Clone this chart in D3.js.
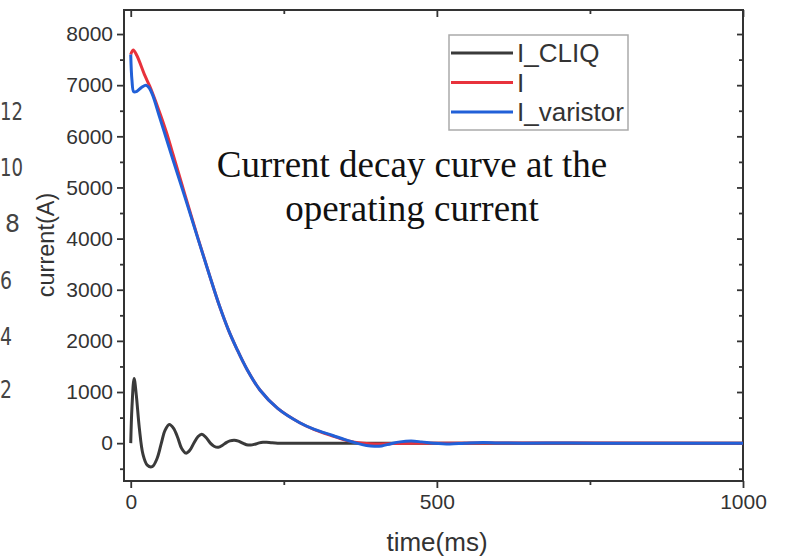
<!DOCTYPE html>
<html>
<head>
<meta charset="utf-8">
<script src="https://cdn.jsdelivr.net/npm/d3@7"></script>
<style>
  body { margin: 0; background: #fff; }
  svg { display: block; }
</style>
</head>
<body>
<div id="chart"></div>
<script>
// data: [time (ms), current (A)]
const cliq = [
  [0, 0], [2, 700], [5.5, 1265], [9, 950], [14, 300], [20, -220], [27, -430], [35, -460],
  [43, -300], [50, 0], [56, 250], [63, 366], [70, 290], [77, 100], [83, -100], [90, -195],
  [97, -130], [103, 0], [110, 130], [116, 176], [123, 110], [130, 0], [136, -60], [143, -80],
  [150, -40], [156, 10], [162, 45], [169, 59], [176, 40], [183, 0], [189, -30], [196, -38],
  [203, -20], [210, 5], [216, 16], [222, 18], [229, 10], [240, 0], [260, -4], [300, 0],
  [400, 0], [1000, 0]
];
const current = [
  [0, 7600], [4, 7690], [10, 7580], [23, 7190], [31, 6980], [45, 6540], [58, 6090],
  [69, 5650], [88, 4880], [110, 4000], [129, 3270], [145, 2680], [160, 2200], [173, 1850],
  [190, 1440], [211, 1040], [240, 680], [276, 400], [300, 265], [330, 140], [355, 45],
  [380, 0], [400, -15], [430, -5], [460, 0], [1000, 0]
];
const varistor = [
  [0, 7600], [2, 7100], [5, 6870], [10, 6880], [18, 6960], [25, 7000], [30, 6950], [36, 6800],
  [47, 6380], [58, 5960], [69, 5540], [88, 4830], [110, 3990], [129, 3270], [145, 2680],
  [160, 2200], [173, 1850], [190, 1440], [211, 1040], [240, 680], [276, 400], [300, 270],
  [330, 150], [350, 70], [369, 0], [385, -45], [398, -62], [410, -55], [425, -10], [440, 25],
  [458, 40], [475, 25], [495, 0], [521, -15], [545, 0], [575, 15], [600, 5], [640, 0],
  [700, 4], [760, 0], [1000, 0]
];
const seriesNames = ["I_CLIQ", "I", "I_varistor"];
const seriesColors = ["#3a3a3a", "#e8323c", "#2160d8"];
const yMajor = [0, 1000, 2000, 3000, 4000, 5000, 6000, 7000, 8000];
const yMinor = [-500, 500, 1500, 2500, 3500, 4500, 5500, 6500, 7500];
const xMajor = [0, 500, 1000];
const xMinor = [250, 750];
const titleLines = ["Current decay curve at the", "operating current"];
const strayLabels = ["12", "10", "8", "6", "4", "2"];

let svg = d3.select("#chart")
    .append("svg")
    .attr("width", 793)
    .attr("height", 557);

let plotLeft = 124, plotRight = 743, plotTop = 10, plotBottom = 481;

let x = d3.scaleLinear().domain([-11, 1000]).range([plotLeft, plotRight]);
let y = d3.scaleLinear().domain([-740, 8470]).range([plotBottom, plotTop]);

// pieces of the neighbouring figure at the left edge
let strayY = [120, 176, 232, 289, 345, 398];
let strayX = [0, 0, 5, 0, 0, 0];
let strayW = [23, 23, 15, 12, 12, 12];
svg.append("g")
    .selectAll("text")
    .data(strayLabels)
    .enter()
    .append("text")
    .attr("x", (d, i) => strayX[i])
    .attr("y", (d, i) => strayY[i])
    .attr("textLength", (d, i) => strayW[i])
    .attr("lengthAdjust", "spacingAndGlyphs")
    .style("font-family", "'DejaVu Sans', sans-serif")
    .style("font-size", "24px")
    .style("fill", "#444")
    .text(d => d);

function styleAxis(g) {
    g.select(".domain").remove();
    g.selectAll(".tick line").attr("stroke", "#333").attr("stroke-width", 1.8);
    g.selectAll(".tick text")
        .style("font-family", "'Liberation Sans', Arial, sans-serif")
        .style("font-size", "21px")
        .style("fill", "#333");
}

// left axis
svg.append("g")
    .attr("transform", "translate(" + plotLeft + ",0)")
    .call(d3.axisLeft(y).tickValues(yMajor).tickSize(7).tickPadding(4).tickFormat(d3.format("d")))
    .call(styleAxis);
svg.append("g")
    .attr("transform", "translate(" + plotLeft + ",0)")
    .call(d3.axisLeft(y).tickValues(yMinor).tickSize(4).tickFormat(""))
    .call(styleAxis);

// right axis, ticks inward
svg.append("g")
    .attr("transform", "translate(" + plotRight + ",0)")
    .call(d3.axisLeft(y).tickValues(yMajor).tickSize(6).tickFormat(""))
    .call(styleAxis);
svg.append("g")
    .attr("transform", "translate(" + plotRight + ",0)")
    .call(d3.axisLeft(y).tickValues(yMinor).tickSize(4).tickFormat(""))
    .call(styleAxis);

// bottom axis
svg.append("g")
    .attr("transform", "translate(0," + plotBottom + ")")
    .call(d3.axisBottom(x).tickValues(xMajor).tickSize(7).tickPadding(6).tickFormat(d3.format("d")))
    .call(styleAxis);
svg.append("g")
    .attr("transform", "translate(0," + plotBottom + ")")
    .call(d3.axisBottom(x).tickValues(xMinor).tickSize(4).tickFormat(""))
    .call(styleAxis);

// top axis, ticks inward
svg.append("g")
    .attr("transform", "translate(0," + plotTop + ")")
    .call(d3.axisBottom(x).tickValues(xMajor).tickSize(7).tickFormat(""))
    .call(styleAxis);
svg.append("g")
    .attr("transform", "translate(0," + plotTop + ")")
    .call(d3.axisBottom(x).tickValues(xMinor).tickSize(4).tickFormat(""))
    .call(styleAxis);

// frame
svg.append("rect")
    .attr("x", plotLeft)
    .attr("y", plotTop)
    .attr("width", plotRight - plotLeft)
    .attr("height", plotBottom - plotTop)
    .attr("fill", "none")
    .attr("stroke", "#333")
    .attr("stroke-width", 2);

// curves
svg.append("clipPath")
    .attr("id", "plot-area")
    .append("rect")
    .attr("x", plotLeft)
    .attr("y", plotTop)
    .attr("width", plotRight - plotLeft)
    .attr("height", plotBottom - plotTop);

let line = d3.line()
    .x(d => x(d[0]))
    .y(d => y(d[1]))
    .curve(d3.curveCatmullRom.alpha(0.5));

let allSeries = [cliq, current, varistor];
svg.append("g")
    .attr("clip-path", "url(#plot-area)")
    .selectAll("path")
    .data(allSeries)
    .enter()
    .append("path")
    .attr("d", line)
    .attr("fill", "none")
    .attr("stroke", (d, i) => seriesColors[i])
    .attr("stroke-width", 3)
    .attr("stroke-linejoin", "round");

// legend
let legend = svg.append("g");
legend.append("rect")
    .attr("x", 449)
    .attr("y", 35)
    .attr("width", 179)
    .attr("height", 95)
    .attr("fill", "#fff")
    .attr("stroke", "#aaa")
    .attr("stroke-width", 1.5);

let rows = legend.selectAll("g.row")
    .data(seriesNames)
    .enter()
    .append("g")
    .attr("class", "row")
    .attr("transform", (d, i) => "translate(0," + (53 + i * 29.5) + ")");
rows.append("line")
    .attr("x1", 451)
    .attr("x2", 513)
    .attr("y1", 0)
    .attr("y2", 0)
    .attr("stroke", (d, i) => seriesColors[i])
    .attr("stroke-width", 3);
rows.append("text")
    .attr("x", 517)
    .attr("y", 9)
    .style("font-family", "'Liberation Sans', Arial, sans-serif")
    .style("font-size", "26px")
    .style("fill", "#333")
    .text(d => d);

// annotation in the plot
svg.append("g")
    .selectAll("text")
    .data(titleLines)
    .enter()
    .append("text")
    .attr("x", 412)
    .attr("y", (d, i) => 177 + i * 44)
    .attr("text-anchor", "middle")
    .style("font-family", "'Liberation Serif', 'Times New Roman', serif")
    .style("font-size", "37px")
    .style("fill", "#111")
    .text(d => d);

// axis titles
svg.append("text")
    .attr("transform", "translate(54,245) rotate(-90)")
    .attr("text-anchor", "middle")
    .style("font-family", "'Liberation Sans', Arial, sans-serif")
    .style("font-size", "23.5px")
    .style("fill", "#333")
    .text("current(A)");

svg.append("text")
    .attr("x", 437)
    .attr("y", 551)
    .attr("text-anchor", "middle")
    .style("font-family", "'Liberation Sans', Arial, sans-serif")
    .style("font-size", "26px")
    .style("fill", "#333")
    .text("time(ms)");
</script>
</body>
</html>
